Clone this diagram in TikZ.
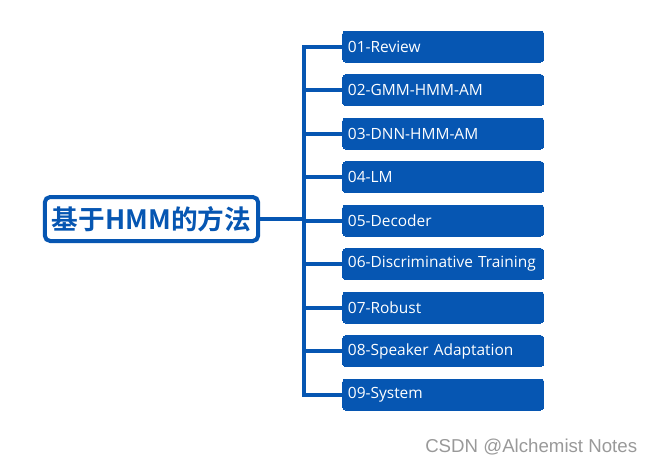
\documentclass[tikz,border=0pt]{standalone}
\usepackage{fontspec}
\setmainfont{Open Sans}
\newfontfamily\cjk[BoldFont={Noto Sans CJK SC Bold}]{Noto Sans CJK SC}
\newfontfamily\marksans{Liberation Sans}
\usetikzlibrary{positioning}
\definecolor{hmmblue}{RGB}{6,86,178}

\begin{document}
\begin{tikzpicture}[x=0.75pt, y=-0.75pt,
    topic/.style={draw=hmmblue, fill=hmmblue, rounded corners=2.5pt, minimum height=23.25pt, minimum width=151pt, text width=143pt, align=left, text=white, font=\fontsize{11.6}{13}\selectfont, inner sep=0pt, line width=0pt},
    root/.style={draw=hmmblue, line width=3pt, rounded corners=4pt, fill=white, minimum height=33pt, minimum width=160pt, text=hmmblue, font=\cjk\bfseries\fontsize{20}{22}\selectfont, inner sep=0pt},
    link/.style={draw=hmmblue, line width=3pt}
]
\useasboundingbox (0,0) rectangle (654,465);

\node[root] (hmm) at (151.5,219) {基于HMM的方法};
\coordinate (spine) at (304,219);

% topics on the right
\foreach \i/\name in {1/01-Review, 2/02-GMM-HMM-AM, 3/03-DNN-HMM-AM, 4/04-LM, 5/05-Decoder, 6/06-Discriminative Training, 7/07-Robust, 8/08-Speaker Adaptation, 9/09-System}
  \node[topic] (t\i) at (443.25, {46.5+43.5*(\i-1)}) {\name};

\draw[link] (hmm) -- (spine);
\foreach \i in {1,...,9}
  \draw[link] (spine) |- (t\i.west);

\node[anchor=west, text=gray!80, font=\marksans\fontsize{14}{16}\selectfont, inner sep=0pt] (mark) at (425,447) {CSDN @Alchemist Notes};
\end{tikzpicture}
\end{document}
